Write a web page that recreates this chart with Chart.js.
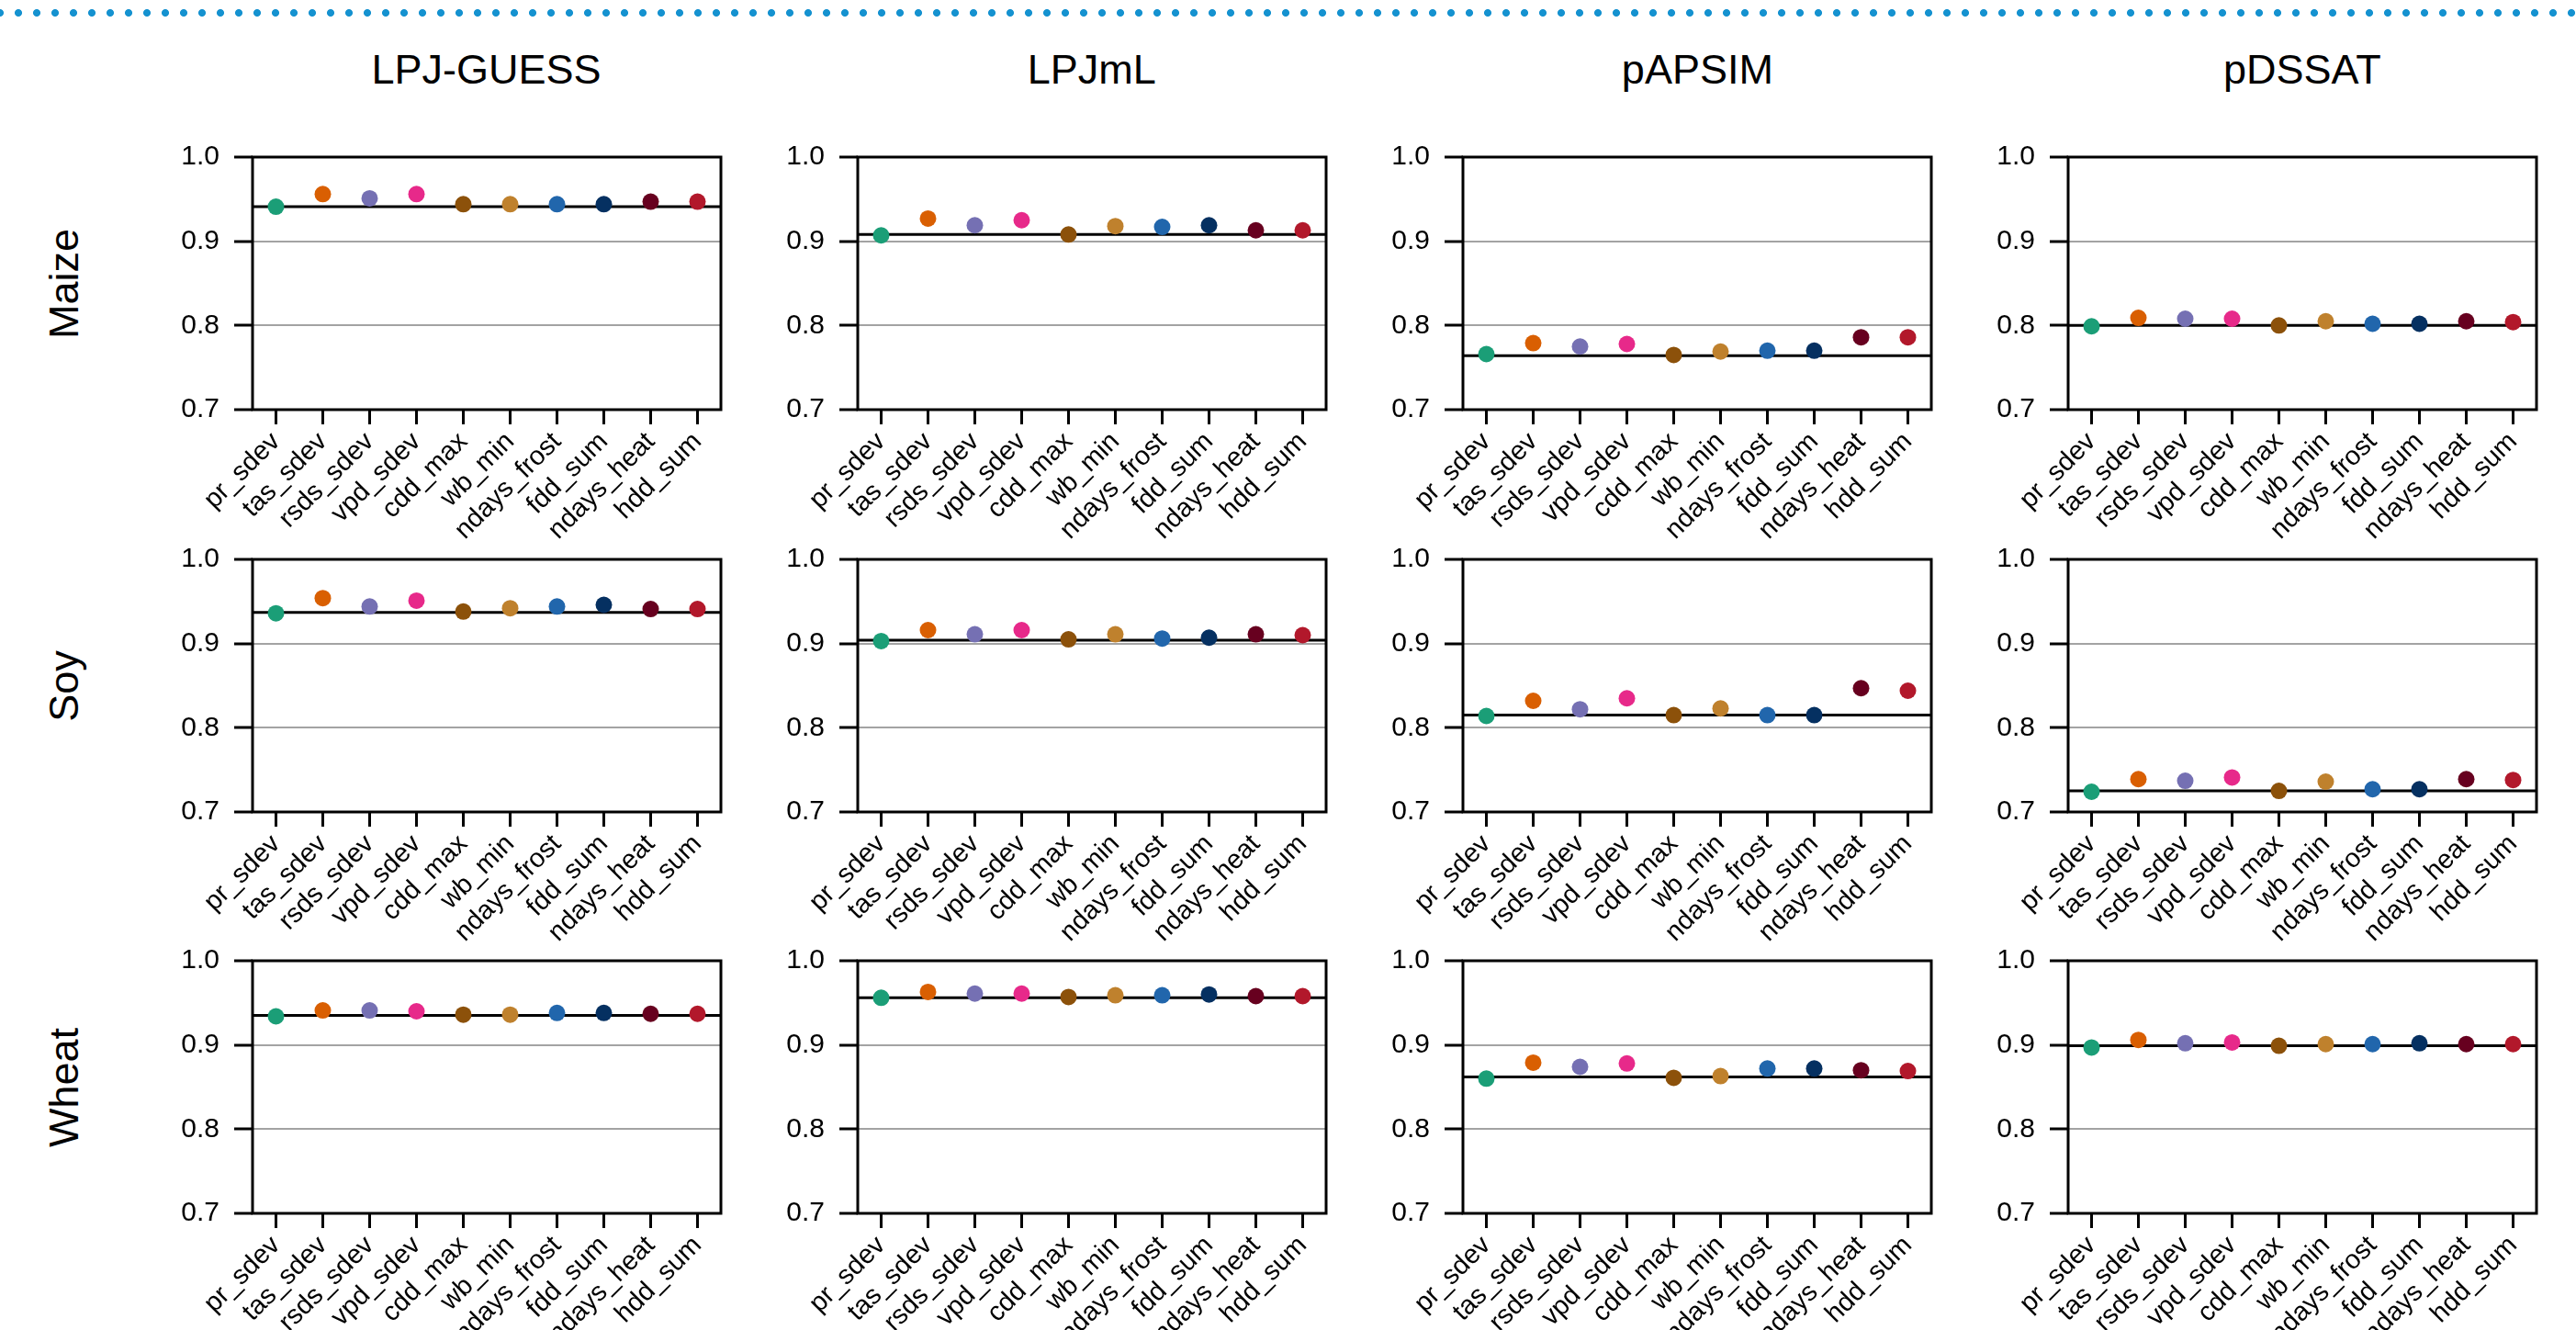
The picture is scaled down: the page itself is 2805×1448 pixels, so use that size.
<!DOCTYPE html>
<html>
<head>
<meta charset="utf-8">
<title>Model skill per variable</title>
<script src="https://cdn.jsdelivr.net/npm/chart.js@4.4.1/dist/chart.umd.min.js"></script>
<style>
    body {
        margin: 0;
        width: 2805px;
        height: 1448px;
        overflow: hidden;
        position: relative;
        background: #fff;
        font-family: "Liberation Sans", Arial, sans-serif;
        color: #000;
    }
    #dots {
        position: absolute;
        left: 0;
        top: 9px;
        width: 2805px;
        height: 10px;
        background-image: radial-gradient(circle at 10px 5px, #1592d0 3.6px, rgba(255,255,255,0) 4.4px);
        background-size: 20px 10px;
        background-position: -10px 0;
        background-repeat: repeat-x;
    }
    .panel { position: absolute; }
    .title {
        position: absolute;
        font-size: 45px;
        white-space: nowrap;
        transform: translate(-50%, -50%);
    }
    .rowlabel {
        position: absolute;
        font-size: 45px;
        white-space: nowrap;
        transform: translate(-50%, -50%) rotate(-90deg);
    }
</style>
</head>
<body>
<div id="dots"></div>
<script>
// =======================
// DATA
// =======================
const variables = ["pr_sdev", "tas_sdev", "rsds_sdev", "vpd_sdev", "cdd_max",
                   "wb_min", "ndays_frost", "fdd_sum", "ndays_heat", "hdd_sum"];
const pointColors = ["#1b9e77", "#d95f02", "#7570b3", "#e7298a", "#8c510a",
                     "#bf812d", "#2166ac", "#053061", "#67001f", "#b2182b"];
const models = ["LPJ-GUESS", "LPJmL", "pAPSIM", "pDSSAT"];
const crops = ["Maize", "Soy", "Wheat"];
const yTicks = [0.7, 0.8, 0.9, 1.0];

// maize
const maizeLpjGuess = [0.941, 0.956, 0.951, 0.956, 0.944, 0.944, 0.944, 0.944, 0.947, 0.947];
const maizeLpjml    = [0.907, 0.927, 0.919, 0.925, 0.908, 0.918, 0.917, 0.919, 0.913, 0.913];
const maizeApsim    = [0.766, 0.779, 0.775, 0.778, 0.765, 0.769, 0.770, 0.770, 0.786, 0.786];
const maizeDssat    = [0.799, 0.809, 0.808, 0.808, 0.800, 0.805, 0.802, 0.802, 0.805, 0.804];
const maizeBase     = [0.941, 0.908, 0.764, 0.800];

// soy
const soyLpjGuess = [0.936, 0.954, 0.944, 0.951, 0.938, 0.942, 0.944, 0.946, 0.941, 0.941];
const soyLpjml    = [0.903, 0.916, 0.911, 0.916, 0.905, 0.911, 0.906, 0.907, 0.911, 0.910];
const soyApsim    = [0.814, 0.832, 0.822, 0.835, 0.815, 0.823, 0.815, 0.815, 0.847, 0.844];
const soyDssat    = [0.724, 0.739, 0.737, 0.741, 0.725, 0.736, 0.727, 0.727, 0.739, 0.738];
const soyBase     = [0.937, 0.904, 0.815, 0.725];

// wheat
const wheatLpjGuess = [0.934, 0.941, 0.941, 0.940, 0.936, 0.936, 0.938, 0.938, 0.937, 0.937];
const wheatLpjml    = [0.956, 0.963, 0.961, 0.961, 0.957, 0.959, 0.959, 0.960, 0.958, 0.958];
const wheatApsim    = [0.860, 0.879, 0.874, 0.878, 0.861, 0.863, 0.872, 0.872, 0.870, 0.869];
const wheatDssat    = [0.897, 0.906, 0.902, 0.903, 0.899, 0.901, 0.901, 0.902, 0.901, 0.901];
const wheatBase     = [0.935, 0.956, 0.862, 0.899];

const valuesByCrop = {
    Maize: [maizeLpjGuess, maizeLpjml, maizeApsim, maizeDssat],
    Soy:   [soyLpjGuess, soyLpjml, soyApsim, soyDssat],
    Wheat: [wheatLpjGuess, wheatLpjml, wheatApsim, wheatDssat]
};
const baseByCrop = { Maize: maizeBase, Soy: soyBase, Wheat: wheatBase };

// =======================
// LAYOUT
// =======================
const plotLeft = [274.6, 933.8, 1593.4, 2251.9];
const plotTop = [171, 609, 1046];
const PLOT_W = 510;
const PLOT_H = 275;
const Y_AXIS_W = 100;
const X_AXIS_H = 150;
const PAD_TOP = 20;
const PAD_RIGHT = 12;
const FONT = "'Liberation Sans', Arial, sans-serif";

// =======================
// PLUGIN: box + baseline
// =======================
const boxPlugin = {
    id: "box",
    beforeDatasetsDraw(chart, args, opts) {
        const { ctx, chartArea: a } = chart;
        const yb = chart.scales.y.getPixelForValue(opts.value);
        ctx.save();
        ctx.strokeStyle = "#000";
        ctx.lineWidth = 3;
        ctx.beginPath();
        ctx.moveTo(a.left, yb);
        ctx.lineTo(a.right, yb);
        ctx.stroke();
        ctx.strokeRect(a.left, a.top, a.right - a.left, a.bottom - a.top);
        ctx.restore();
    }
};

// =======================
// PANELS
// =======================
function makePanel(row, col) {
    const crop = crops[row];
    const div = document.createElement("div");
    div.className = "panel";
    div.style.left = (plotLeft[col] - Y_AXIS_W) + "px";
    div.style.top = (plotTop[row] - PAD_TOP) + "px";
    div.style.width = (Y_AXIS_W + PLOT_W + PAD_RIGHT) + "px";
    div.style.height = (PAD_TOP + PLOT_H + X_AXIS_H) + "px";
    const canvas = document.createElement("canvas");
    div.appendChild(canvas);
    document.body.appendChild(div);

    new Chart(canvas, {
        type: "line",
        data: {
            labels: variables,
            datasets: [{
                data: valuesByCrop[crop][col],
                showLine: false,
                pointRadius: 9,
                pointHoverRadius: 9,
                pointBorderWidth: 0,
                pointBackgroundColor: pointColors,
                clip: false
            }]
        },
        options: {
            responsive: true,
            maintainAspectRatio: false,
            animation: false,
            events: [],
            layout: { padding: { top: PAD_TOP, right: PAD_RIGHT, left: 0, bottom: 0 } },
            plugins: {
                legend: { display: false },
                tooltip: { enabled: false },
                box: { value: baseByCrop[crop][col] }
            },
            scales: {
                x: {
                    type: "category",
                    offset: true,
                    border: { display: false },
                    grid: {
                        drawOnChartArea: false,
                        drawTicks: true,
                        tickLength: 16,
                        tickWidth: 3,
                        tickColor: "#000"
                    },
                    ticks: {
                        autoSkip: false,
                        minRotation: 45,
                        maxRotation: 45,
                        padding: 2,
                        color: "#000",
                        font: { family: FONT, size: 29 }
                    },
                    afterFit: s => {
                        s.height = X_AXIS_H;
                        s.paddingLeft = 0;
                        s.paddingRight = 0;
                    }
                },
                y: {
                    min: 0.7,
                    max: 1.0,
                    border: { display: false },
                    afterBuildTicks: s => { s.ticks = yTicks.map(v => ({ value: v })); },
                    grid: {
                        color: c => {
                            const v = c.tick ? c.tick.value : 0;
                            return (Math.abs(v - 0.8) < 1e-6 || Math.abs(v - 0.9) < 1e-6) ? "#a3a3a3" : "rgba(0,0,0,0)";
                        },
                        lineWidth: 2,
                        tickLength: 20,
                        tickWidth: 3,
                        tickColor: "#000"
                    },
                    ticks: {
                        padding: 16,
                        color: "#000",
                        font: { family: FONT, size: 30 },
                        callback: v => Number(v).toFixed(1)
                    },
                    afterFit: s => {
                        s.width = Y_AXIS_W;
                        s.paddingTop = 0;
                        s.paddingBottom = 0;
                    }
                }
            }
        },
        plugins: [boxPlugin]
    });
}

function addText(cls, text, x, y) {
    const el = document.createElement("div");
    el.className = cls;
    el.textContent = text;
    el.style.left = x + "px";
    el.style.top = y + "px";
    document.body.appendChild(el);
}

// =======================
// INIT
// =======================
models.forEach((m, c) => addText("title", m, plotLeft[c] + PLOT_W / 2, 76));
crops.forEach((cr, r) => addText("rowlabel", cr, 70, plotTop[r] + PLOT_H / 2));

for (let r = 0; r < crops.length; r++) {
    for (let c = 0; c < models.length; c++) {
        makePanel(r, c);
    }
}
</script>
</body>
</html>
